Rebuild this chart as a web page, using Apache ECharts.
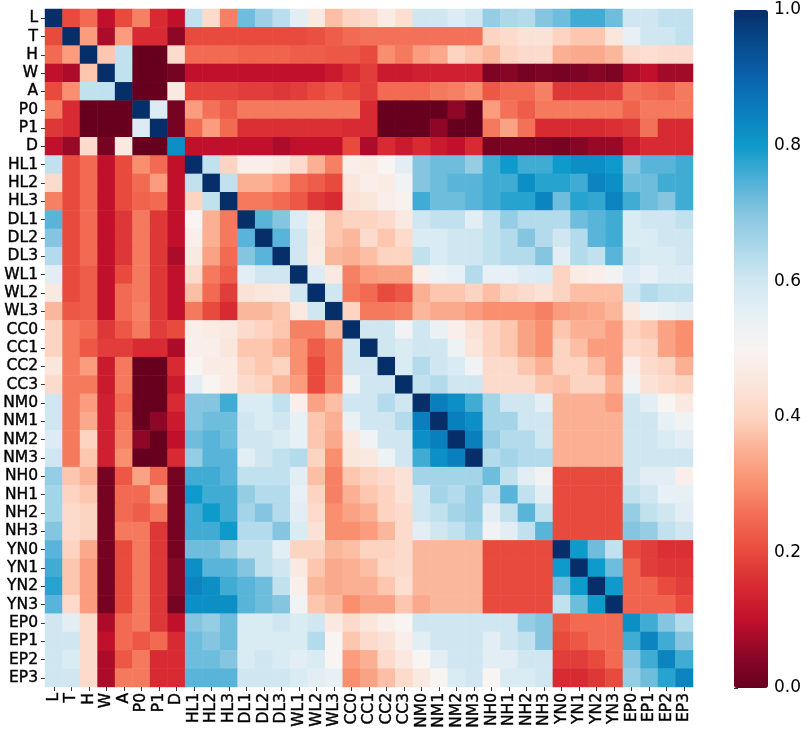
<!DOCTYPE html>
<html>
<head>
<meta charset="utf-8">
<script src="https://cdn.jsdelivr.net/npm/echarts@6/dist/echarts.min.js"></script>
<style>
html,body{margin:0;padding:0;background:#fff;}
#main{width:809px;height:731px;}
</style>
</head>
<body>
<div id="main"></div>
<script>
var labels = ['L','T','H','W','A','P0','P1','D','HL1','HL2','HL3','DL1','DL2','DL3','WL1','WL2','WL3',
  'CC0','CC1','CC2','CC3','NM0','NM1','NM2','NM3','NH0','NH1','NH2','NH3','YN0','YN1','YN2','YN3','EP0','EP1','EP2','EP3'];

// one row per label
var corr = [
/*L  */[1,0.2,0.25,0.1,0.2,0.28,0.15,0.1,0.62,0.42,0.28,0.72,0.67,0.63,0.56,0.46,0.37,0.4, 0.42,0.47,0.43,0.6,0.6,0.57,0.6,0.68,0.65,0.64,0.7,0.72,0.76,0.76,0.72,0.6,0.6,0.62,0.62],
/*T  */[0.2,1,0.32,0.08,0.32,0.15,0.15,0.05,0.2,0.2,0.2,0.2,0.2,0.2,0.2,0.21,0.23,0.25, 0.26,0.26,0.26,0.26,0.26,0.26,0.26,0.4,0.42,0.44,0.44,0.4,0.38,0.38,0.45,0.55,0.6,0.6,0.62],
/*H  */[0.25,0.32,1,0.38,0.62,0,0,0.42,0.25,0.25,0.25,0.24,0.24,0.24,0.23,0.23,0.22,0.22, 0.2,0.3,0.27,0.32,0.34,0.4,0.38,0.36,0.4,0.42,0.42,0.35,0.34,0.34,0.36,0.42,0.43,0.42,0.42],
/*W  */[0.1,0.08,0.38,1,0.62,0,0,0.02,0.1,0.1,0.1,0.1,0.1,0.1,0.1,0.1,0.12,0.15, 0.18,0.12,0.12,0.13,0.13,0.13,0.13,0.03,0.04,0.02,0.03,0.02,0.03,0.04,0.03,0.08,0.1,0.07,0.07],
/*A  */[0.2,0.3,0.62,0.62,1,0,0,0.46,0.19,0.19,0.19,0.18,0.18,0.17,0.18,0.2,0.22,0.2, 0.18,0.25,0.25,0.25,0.27,0.28,0.3,0.22,0.25,0.25,0.28,0.17,0.17,0.17,0.18,0.26,0.25,0.24,0.27],
/*P0 */[0.27,0.15,0,0,0,1,0.57,0.02,0.32,0.26,0.23,0.27,0.27,0.27,0.27,0.27,0.27,0.27, 0.15,0,0,0,0,0.05,0,0.32,0.26,0.23,0.27,0.27,0.27,0.27,0.27,0.24,0.27,0.27,0.27],
/*P1 */[0.17,0.15,0,0,0,0.57,1,0.02,0.25,0.32,0.25,0.16,0.16,0.16,0.16,0.16,0.16,0.15, 0.15,0,0,0,0.05,0,0,0.27,0.33,0.26,0.15,0.15,0.15,0.15,0.16,0.17,0.26,0.15,0.15],
/*D  */[0.1,0.06,0.42,0.02,0.46,0,0,0.82,0.1,0.1,0.1,0.1,0.1,0.08,0.1,0.1,0.1,0.2, 0.08,0.15,0.12,0.15,0.12,0.1,0.15,0.02,0.03,0.03,0.03,0.02,0.04,0.06,0.06,0.12,0.15,0.15,0.15],
/*HL1*/[0.62,0.2,0.25,0.1,0.2,0.3,0.25,0.1,1,0.62,0.4,0.48,0.48,0.46,0.42,0.35,0.28,0.48, 0.47,0.5,0.56,0.7,0.72,0.72,0.68,0.76,0.8,0.76,0.76,0.8,0.82,0.82,0.8,0.7,0.74,0.74,0.76],
/*HL2*/[0.42,0.2,0.25,0.1,0.2,0.25,0.32,0.1,0.62,1,0.62,0.35,0.35,0.32,0.25,0.23,0.2,0.45, 0.48,0.47,0.52,0.7,0.72,0.74,0.74,0.76,0.76,0.82,0.78,0.78,0.76,0.84,0.82,0.72,0.72,0.76,0.76],
/*HL3*/[0.28,0.2,0.25,0.1,0.2,0.24,0.25,0.1,0.4,0.62,1,0.27,0.27,0.25,0.22,0.17,0.15,0.44, 0.45,0.48,0.49,0.76,0.72,0.72,0.74,0.76,0.78,0.78,0.84,0.72,0.78,0.77,0.84,0.76,0.72,0.7,0.76],
/*DL1*/[0.74,0.2,0.25,0.1,0.17,0.27,0.17,0.1,0.5,0.35,0.27,1,0.74,0.7,0.57,0.47,0.38,0.4, 0.4,0.42,0.46,0.6,0.62,0.62,0.56,0.62,0.68,0.64,0.64,0.64,0.72,0.74,0.76,0.58,0.6,0.6,0.62],
/*DL2*/[0.7,0.2,0.25,0.1,0.17,0.27,0.17,0.1,0.48,0.35,0.27,0.74,1,0.74,0.6,0.46,0.38,0.36, 0.42,0.38,0.42,0.58,0.58,0.6,0.6,0.62,0.64,0.7,0.64,0.6,0.64,0.74,0.76,0.58,0.58,0.6,0.6],
/*DL3*/[0.64,0.2,0.25,0.1,0.17,0.27,0.17,0.08,0.46,0.33,0.25,0.7,0.74,1,0.6,0.47,0.36,0.35, 0.37,0.4,0.4,0.62,0.58,0.6,0.6,0.62,0.64,0.64,0.7,0.56,0.64,0.62,0.74,0.6,0.58,0.58,0.6],
/*WL1*/[0.56,0.2,0.23,0.1,0.2,0.27,0.17,0.1,0.42,0.27,0.23,0.56,0.6,0.6,1,0.57,0.46,0.28, 0.32,0.33,0.33,0.48,0.53,0.55,0.64,0.55,0.55,0.57,0.58,0.4,0.47,0.48,0.52,0.57,0.55,0.57,0.57],
/*WL2*/[0.46,0.2,0.23,0.1,0.25,0.27,0.17,0.1,0.37,0.25,0.18,0.44,0.45,0.46,0.6,1,0.6,0.27, 0.25,0.2,0.22,0.35,0.38,0.38,0.4,0.37,0.4,0.42,0.44,0.4,0.37,0.37,0.37,0.6,0.64,0.62,0.62],
/*WL3*/[0.36,0.22,0.23,0.1,0.25,0.28,0.17,0.1,0.27,0.2,0.15,0.36,0.36,0.38,0.46,0.6,1,0.4, 0.27,0.27,0.28,0.36,0.34,0.34,0.32,0.3,0.3,0.3,0.28,0.32,0.33,0.34,0.36,0.46,0.52,0.54,0.56],
/*CC0*/[0.4,0.27,0.25,0.17,0.22,0.27,0.18,0.2,0.48,0.47,0.46,0.42,0.4,0.38,0.28,0.28,0.36,1, 0.6,0.6,0.52,0.6,0.54,0.48,0.44,0.4,0.38,0.33,0.3,0.38,0.35,0.35,0.32,0.4,0.38,0.33,0.3],
/*CC1*/[0.4,0.27,0.22,0.18,0.18,0.15,0.15,0.08,0.48,0.48,0.45,0.38,0.38,0.35,0.3,0.23,0.27,0.6, 1,0.6,0.58,0.6,0.6,0.53,0.45,0.4,0.38,0.33,0.3,0.4,0.37,0.32,0.32,0.42,0.4,0.33,0.3],
/*CC2*/[0.45,0.27,0.32,0.12,0.27,0,0,0.15,0.5,0.47,0.47,0.4,0.38,0.4,0.3,0.2,0.27,0.6, 0.6,1,0.58,0.64,0.6,0.58,0.52,0.42,0.42,0.38,0.35,0.4,0.4,0.37,0.32,0.48,0.42,0.4,0.35],
/*CC3*/[0.42,0.27,0.27,0.12,0.27,0,0,0.12,0.56,0.5,0.47,0.42,0.4,0.36,0.32,0.2,0.28,0.52, 0.6,0.6,1,0.62,0.64,0.6,0.6,0.42,0.42,0.42,0.38,0.37,0.4,0.4,0.35,0.52,0.44,0.42,0.4],
/*NM0*/[0.6,0.27,0.32,0.13,0.25,0,0,0.15,0.7,0.7,0.76,0.58,0.58,0.62,0.48,0.33,0.37,0.6, 0.6,0.64,0.6,1,0.85,0.82,0.76,0.66,0.6,0.6,0.56,0.35,0.35,0.35,0.32,0.6,0.56,0.5,0.46],
/*NM1*/[0.6,0.27,0.34,0.13,0.27,0,0.05,0.12,0.7,0.72,0.72,0.6,0.58,0.6,0.55,0.38,0.35,0.54, 0.6,0.6,0.64,0.85,1,0.85,0.82,0.66,0.66,0.6,0.6,0.35,0.35,0.35,0.35,0.6,0.6,0.55,0.52],
/*NM2*/[0.57,0.27,0.4,0.13,0.28,0.05,0,0.1,0.72,0.74,0.72,0.6,0.6,0.58,0.55,0.38,0.34,0.46, 0.52,0.6,0.6,0.82,0.85,1,0.85,0.68,0.64,0.64,0.6,0.35,0.35,0.35,0.35,0.6,0.6,0.58,0.56],
/*NM3*/[0.6,0.27,0.38,0.13,0.3,0,0,0.15,0.68,0.74,0.74,0.56,0.6,0.62,0.64,0.4,0.3,0.45, 0.46,0.53,0.6,0.76,0.82,0.85,1,0.64,0.66,0.64,0.64,0.35,0.35,0.35,0.35,0.6,0.6,0.6,0.6],
/*NH0*/[0.68,0.38,0.35,0.02,0.22,0.33,0.25,0.02,0.76,0.76,0.74,0.62,0.62,0.62,0.56,0.37,0.28,0.38, 0.4,0.42,0.44,0.66,0.66,0.66,0.66,0.72,0.62,0.56,0.52,0.2,0.2,0.2,0.2,0.6,0.56,0.56,0.48],
/*NH1*/[0.66,0.4,0.38,0.02,0.25,0.25,0.33,0.02,0.8,0.76,0.76,0.68,0.64,0.64,0.55,0.4,0.28,0.35, 0.38,0.4,0.44,0.6,0.66,0.64,0.68,0.62,0.74,0.62,0.56,0.2,0.2,0.2,0.2,0.62,0.6,0.55,0.55],
/*NH2*/[0.66,0.42,0.4,0.02,0.25,0.23,0.27,0.02,0.76,0.8,0.76,0.66,0.7,0.64,0.56,0.42,0.3,0.33, 0.35,0.4,0.42,0.6,0.62,0.66,0.68,0.56,0.62,0.74,0.62,0.2,0.2,0.2,0.2,0.68,0.62,0.6,0.56],
/*NH3*/[0.7,0.42,0.4,0.02,0.27,0.27,0.17,0.02,0.76,0.76,0.8,0.64,0.64,0.7,0.58,0.44,0.3,0.3, 0.32,0.36,0.42,0.56,0.6,0.62,0.66,0.52,0.56,0.62,0.74,0.2,0.2,0.2,0.2,0.7,0.68,0.62,0.6],
/*YN0*/[0.74,0.4,0.34,0.02,0.2,0.27,0.17,0.02,0.72,0.72,0.68,0.62,0.62,0.56,0.4,0.4,0.36,0.37, 0.4,0.4,0.42,0.36,0.36,0.36,0.36,0.2,0.2,0.2,0.2,1,0.8,0.72,0.62,0.2,0.18,0.16,0.16],
/*YN1*/[0.76,0.38,0.32,0.02,0.2,0.27,0.17,0.04,0.82,0.74,0.74,0.7,0.62,0.6,0.46,0.38,0.34,0.35, 0.37,0.41,0.42,0.36,0.36,0.36,0.36,0.2,0.2,0.2,0.2,0.8,1,0.8,0.72,0.24,0.18,0.17,0.17],
/*YN2*/[0.78,0.38,0.32,0.02,0.2,0.27,0.17,0.04,0.84,0.82,0.76,0.74,0.72,0.62,0.48,0.36,0.34,0.35, 0.35,0.38,0.43,0.36,0.36,0.36,0.36,0.2,0.2,0.2,0.2,0.72,0.8,1,0.8,0.24,0.24,0.2,0.18],
/*YN3*/[0.74,0.42,0.32,0.02,0.2,0.27,0.17,0.02,0.82,0.82,0.82,0.74,0.72,0.7,0.52,0.38,0.36,0.3, 0.33,0.33,0.38,0.34,0.36,0.36,0.36,0.2,0.2,0.2,0.2,0.62,0.72,0.8,1,0.24,0.24,0.24,0.2],
/*EP0*/[0.6,0.56,0.42,0.08,0.25,0.27,0.17,0.1,0.7,0.68,0.72,0.58,0.58,0.6,0.58,0.6,0.46,0.42, 0.45,0.48,0.5,0.6,0.6,0.6,0.6,0.6,0.6,0.68,0.7,0.22,0.25,0.25,0.25,0.82,0.76,0.7,0.64],
/*EP1*/[0.6,0.6,0.42,0.1,0.25,0.22,0.25,0.15,0.72,0.7,0.72,0.58,0.58,0.58,0.58,0.64,0.5,0.38, 0.42,0.44,0.48,0.56,0.6,0.6,0.6,0.56,0.6,0.62,0.7,0.2,0.22,0.25,0.25,0.76,0.84,0.76,0.7],
/*EP2*/[0.6,0.58,0.42,0.08,0.22,0.27,0.15,0.15,0.72,0.72,0.7,0.58,0.6,0.58,0.56,0.58,0.5,0.32, 0.35,0.42,0.46,0.5,0.56,0.6,0.6,0.56,0.56,0.6,0.6,0.18,0.18,0.2,0.25,0.7,0.76,0.84,0.76],
/*EP3*/[0.6,0.6,0.42,0.08,0.27,0.27,0.15,0.15,0.74,0.74,0.74,0.6,0.6,0.6,0.58,0.56,0.55,0.3, 0.33,0.37,0.42,0.46,0.5,0.58,0.6,0.5,0.58,0.58,0.6,0.15,0.15,0.17,0.2,0.68,0.72,0.78,0.84]
];

// colorbar ticks
var barTicks = [0, 0.2, 0.4, 0.6, 0.8, 1.0];

// RdBu-like colours as they look in the picture, every 0.05 from 0 to 1
var rdbu = ['#67001f','#8e0726','#c0102b','#d72a33','#e84a3e','#f26a52','#f98f6e','#fbb093','#fdd4c1','#fbe6dc',
  '#f8f4f2','#e6f0f5','#d0e7f2','#acd8ea','#86c5e0','#4cb0d6','#0e9acb','#0a7fbd','#0a63ad','#074a8c','#062f6a'];

var cells = [];
for (var i = 0; i < corr.length; i++) {
  for (var j = 0; j < corr[i].length; j++) {
    cells.push([j, i, corr[i][j]]);
  }
}

var myChart = echarts.init(document.getElementById('main'));
var font = '"DejaVu Sans", sans-serif';
var labelStyle = {color: '#000', fontSize: 15.5, fontFamily: font, textBorderColor: '#000', textBorderWidth: 0.4};
var option = {
  animation: false,
  backgroundColor: '#fff',
  grid: [
    {left: 41, top: 9, width: 652, height: 681},
    {left: 734, top: 10, width: 34, height: 678}
  ],
  xAxis: [{
    type: 'category',
    gridIndex: 0,
    data: labels,
    axisLine: {show: false},
    axisTick: {show: true, alignWithLabel: true, length: 4, lineStyle: {color: '#333'}},
    axisLabel: Object.assign({rotate: 90, interval: 0, margin: 6}, labelStyle),
    splitLine: {show: false}
  }, {
    type: 'value',
    gridIndex: 1,
    show: false
  }],
  yAxis: [{
    type: 'category',
    gridIndex: 0,
    inverse: true,
    data: labels,
    axisLine: {show: false},
    axisTick: {show: true, alignWithLabel: true, length: 4, lineStyle: {color: '#333'}},
    axisLabel: Object.assign({interval: 0, margin: 7}, labelStyle),
    splitLine: {show: false}
  }, {
    type: 'value',
    gridIndex: 1,
    position: 'right',
    min: 0,
    max: 1,
    interval: 0.2,
    axisLine: {show: false},
    axisTick: {show: true, length: 4, lineStyle: {color: '#333'}},
    axisLabel: {
      margin: 6, color: '#000', fontSize: 17, fontFamily: font,
      formatter: function (v) {
        return barTicks.indexOf(Math.round(v * 10) / 10) >= 0 ? v.toFixed(1) : '';
      }
    },
    splitLine: {show: false}
  }],
  visualMap: {
    type: 'continuous',
    min: 0,
    max: 1,
    seriesIndex: 0,
    calculable: false,
    realtime: false,
    left: 734,
    top: 10,
    itemWidth: 34,
    itemHeight: 678,
    padding: 0,
    text: ['', ''],
    showLabel: false,
    inRange: {color: rdbu}
  },
  series: [{
    type: 'heatmap',
    xAxisIndex: 0,
    yAxisIndex: 0,
    data: cells,
    itemStyle: {borderWidth: 0},
    emphasis: {disabled: true}
  }]
};
myChart.setOption(option);
</script>
</body>
</html>
